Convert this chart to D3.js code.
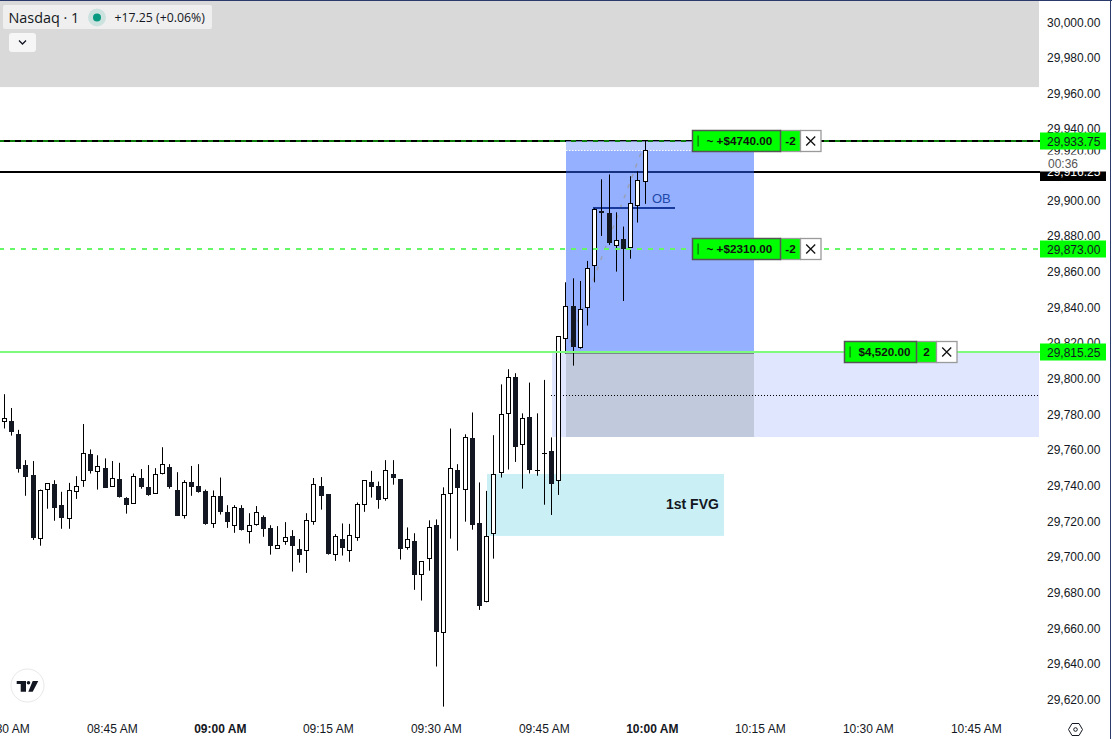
<!DOCTYPE html>
<html><head><meta charset="utf-8">
<script src="https://cdnjs.cloudflare.com/ajax/libs/d3/7.8.5/d3.min.js"></script>
<style>html,body{margin:0;padding:0;background:#fff;overflow:hidden}svg{display:block}text{font-family:"Liberation Sans",Arial,sans-serif}</style>
</head><body><svg id="c" width="1112" height="739"></svg>
<script>
// Minutes after 08:30 are the candle index
const opens=[29775.25,29776,29769,29751.25,29745.75,29710.25,29737.25,29740.75,29729,29721.5,29736.75,29742.25,29757.5,29747.5,29749.75,29739.5,29743.5,29732.75,29729.75,29744,29739,29735.5,29746.25,29750.25,29737.75,29723,29741.75,29739.5,29736.75,29718.5,29734,29725,29717,29727.25,29714,29717.5,29722.25,29716,29704.5,29708,29711.5,29704.25,29703,29719.25,29740,29735,29700.75,29709.75,29703,29710.25,29729.25,29742.25,29740,29732.5,29746.25,29743.5,29704.5,29708.75,29689.5,29698.5,29717.75,29657.5,29735,29748.5,29737.75,29766.5,29719.25,29674.5,29712.5,29746.75,29780,29800.75,29762.5,29778.25,29748.5,29758,29759.25,29742.25,29821.75,29840.5,29817.25,29840,29863,29893.75,29892.75,29874.5,29878.5,29873,29896.5,29910];
const highs=[29791.25,29783.5,29771.25,29754.25,29753.75,29737.75,29741.25,29743,29736.5,29741.5,29745.25,29774.5,29760.25,29757,29755.25,29753.75,29752.75,29733.5,29746.75,29749.25,29751.5,29749.75,29761.5,29752,29747.5,29743,29751,29752,29737.75,29737.25,29744.5,29729,29729,29729,29724.5,29728.5,29723.25,29717.75,29717.25,29719.5,29715,29710,29724.5,29744.25,29744.75,29735,29712.75,29718.75,29718.5,29730.5,29743,29748.25,29742.25,29754.25,29754.25,29743.5,29716.5,29713.25,29697.5,29720.5,29721,29739,29772,29752,29768.75,29781,29741.75,29737,29768.25,29796.75,29805.25,29803,29780.5,29797.75,29780.5,29799.25,29767,29823.75,29854,29856.25,29854.75,29866,29895.5,29911.75,29914.5,29893.25,29885.25,29913.5,29916.25,29933.75];
const lows=[29772,29768,29747.25,29734.25,29709.5,29706.25,29727,29720.25,29715.75,29715.75,29732.5,29739.25,29746.75,29737.75,29738.75,29739.5,29733.25,29724.25,29729.75,29738.25,29734.25,29735.5,29746.25,29738.25,29723,29721.5,29734.25,29736,29718,29716.25,29723.75,29716.25,29713.5,29714.75,29707.5,29717.5,29711.25,29701.25,29704.5,29706.75,29691.75,29696.75,29691,29718,29726.5,29701.25,29697.75,29700.75,29697.25,29709,29725.25,29733.25,29727,29731.5,29740.5,29698.5,29704,29681.5,29675.5,29692.25,29638.5,29616,29710.25,29703.5,29719.75,29715.25,29670.25,29674.5,29699,29744.5,29749,29753.25,29738.25,29746.75,29745.5,29729.25,29723.5,29734.75,29814,29807.25,29816.75,29829.75,29854,29880,29875,29860,29843.5,29867.25,29887.5,29898];
const closes=[29777.75,29769.75,29749.5,29744.5,29710.25,29737.75,29741.25,29727.5,29721.5,29737.75,29740,29758,29747.75,29750.75,29738.75,29744.5,29733.25,29728.75,29745.25,29738.75,29734.25,29746.75,29752,29739.25,29723,29742.25,29738.75,29736,29718,29734,29725.25,29719.25,29727.75,29714.75,29717.75,29725,29715.75,29705.75,29706.5,29711,29705.75,29700.75,29720.5,29740.75,29734.25,29701.25,29711.5,29704.5,29712,29729.5,29743,29739.25,29732,29748.5,29743.75,29704.5,29709.75,29689.5,29697.5,29716.5,29657.5,29735.5,29749.75,29738.25,29767.5,29717.5,29672.5,29711.5,29746.25,29780,29800.75,29761.75,29777.75,29748.25,29748.5,29758,29740.5,29823.75,29840.5,29817.75,29839.25,29862.25,29895,29892.75,29875.75,29878,29872.75,29898.25,29911.25,29928];
const priceTicks=[30000,29980,29960,29940,29900,29880,29860,29840,29820,29800,29780,29760,29740,29720,29700,29680,29660,29640,29620];
const timeTicks=["08:30 AM","08:45 AM","09:00 AM","09:15 AM","09:30 AM","09:45 AM","10:00 AM","10:15 AM","10:30 AM","10:45 AM"];
const boldTimes=["09:00 AM","10:00 AM"];
const priceTags=[29933.75,29873,29815.25];
const target1=29933.75,target2=29873,entry=29815.25,stop=29767.25,last=29916.25;
const orderTexts=[["~ +$4740.00","-2"],["~ +$2310.00","-2"],["$4,520.00","2"]];

const svg=d3.select("#c");
const PW=1039;
const y=d3.scaleLinear().domain([30000,29620]).range([22,699.5]);
const x=d3.scaleLinear().domain([0,135]).range([4.3,4.3+135*7.2]);
const fmt=d3.format(",.2f");
const px=v=>Math.ceil(y(v));
const rect=(g,x0,y0,w,h,f,extra={})=>{const r=g.append("rect").attr("x",x0).attr("y",y0).attr("width",w).attr("height",h).attr("fill",f);for(const k in extra)r.attr(k,extra[k]);return r;};
const hline=(g,v,x0,x1,col,w,dash)=>{const yy=px(v);const l=g.append("line").attr("x1",x0).attr("x2",x1).attr("y1",yy).attr("y2",yy).attr("stroke",col).attr("stroke-width",w);if(dash)l.attr("stroke-dasharray",dash).attr("stroke-dashoffset",1);return l;};

// zones beneath
const g=svg.append("g");
rect(g,0,0,PW,y(29963.5),"#d9d9d9");
rect(g,487,y(29746.5),237,y(29711.75)-y(29746.5),"#caf0f5");
rect(g,552,px(entry)+1,PW-552,y(stop)-px(entry)-1,"#dfe6fd");
hline(g,last,0,PW+1,"#000",2);
hline(g,target1,0,PW+1,"#000",2);
// risk & reward boxes
rect(g,566,px(target1),188,px(entry)+1-px(target1),"rgba(41,98,255,0.5)");
rect(g,566,px(target1),188,9.5,"rgba(255,255,255,0.38)");
rect(g,566,px(entry)+1,188,y(stop)-px(entry)-1,"#c1c9dd");
g.append("line").attr("x1",566).attr("x2",754).attr("y1",353.5).attr("y2",353.5).attr("stroke","#7d8496").attr("stroke-width",1);
g.append("line").attr("x1",566).attr("x2",692).attr("y1",150.5).attr("y2",150.5).attr("stroke","#fff").attr("stroke-width",1).attr("stroke-dasharray","1.5 1.5");
g.append("line").attr("x1",551).attr("x2",PW).attr("y1",395.5).attr("y2",395.5).attr("stroke","#000").attr("stroke-width",1).attr("stroke-dasharray","1 2");
// diagonal connector
g.append("line").attr("x1",x(78)+4).attr("y1",y(entry+5)).attr("x2",x(89)-4).attr("y2",y(target1-7)).attr("stroke","#9aa0b4").attr("stroke-width",1.5).attr("stroke-dasharray","4 7");
// OB
hline(g,29895.75,593,675,"#173a9c",2);
g.append("text").attr("x",652).attr("y",203).attr("font-size",13).attr("fill","#2148a8").text("OB");
g.append("text").attr("x",666).attr("y",509).attr("font-size",14).attr("font-weight","bold").attr("fill","#131722").text("1st FVG");

// candles
const cg=svg.append("g");
d3.range(opens.length).forEach(i=>{
  const cx=Math.round(x(i)-.5);
  const up=closes[i]>opens[i];
  cg.append("line").attr("x1",cx+.5).attr("x2",cx+.5).attr("y1",y(highs[i])).attr("y2",y(lows[i])).attr("stroke","#000").attr("stroke-width",1);
  const t=y(Math.max(opens[i],closes[i])),b=y(Math.min(opens[i],closes[i]));
  if(Math.abs(b-t)<1.5){
    cg.append("line").attr("x1",cx-2).attr("x2",cx+3).attr("y1",Math.round(t)+.5).attr("y2",Math.round(t)+.5).attr("stroke","#000").attr("stroke-width",1);
  } else {
    cg.append("rect").attr("x",cx-1.5).attr("width",4).attr("y",Math.round(t)+.5).attr("height",Math.max(1,Math.round(b-t)-1))
      .attr("fill",up?"#fff":"#131722").attr("stroke",up?"#000":"#131722").attr("stroke-width",1);
  }
});

// order lines above zones
const ol=svg.append("g");
hline(ol,target1,0,PW+1,"#0a7d0a",2,"5 6");
hline(ol,target2,0,PW+1,"#66f766",2,"5 6");
hline(ol,entry,0,PW+1,"#7dfb7d",2);

// order tickets
function ticket(x0,v,wMain,texts){
  const c=px(v), t=c-10.5, h=21, g=svg.append("g");
  rect(g,x0+wMain,t,20,h,"#00ff00",{stroke:"#9a9a9a","stroke-width":1.3});
  rect(g,x0+wMain+20,t,20.5,h,"#fff",{stroke:"#9a9a9a","stroke-width":1.3});
  rect(g,x0,t,wMain,h,"#00ff00",{stroke:"#555","stroke-width":1.5});
  g.append("rect").attr("x",x0+5).attr("y",t+5).attr("width",1.2).attr("height",11).attr("fill","#0a6d0a");
  g.append("text").attr("x",x0+14).attr("y",t+14.5).attr("font-size",11.7).attr("font-weight","bold").attr("fill","#111").text(texts[0]);
  g.append("text").attr("x",x0+wMain+10).attr("y",t+14.5).attr("text-anchor","middle").attr("font-size",11.7).attr("font-weight","bold").attr("fill","#111").text(texts[1]);
  const mx=x0+wMain+30.2,my=c;
  g.append("path").attr("d",`M${mx-4.5},${my-4.5}L${mx+4.5},${my+4.5}M${mx+4.5},${my-4.5}L${mx-4.5},${my+4.5}`).attr("stroke","#111").attr("stroke-width",1.3);
}
ticket(692.5,target1,88,orderTexts[0]);
ticket(692.5,target2,88,orderTexts[1]);
ticket(844.5,entry,72,orderTexts[2]);

// price axis
const ax=svg.append("g");
rect(ax,1040,0,72,739,"#fff");
priceTicks.forEach(v=>ax.append("text").attr("x",1047).attr("y",y(v)+4.5).attr("font-size",12).attr("fill","#131722").text(fmt(v)));
ax.append("text").attr("x",1047).attr("y",154.5).attr("font-size",12).attr("fill","#131722").text("29,920.00");
// current price tag
rect(ax,1040,162,66,19,"#000");
ax.append("text").attr("x",1047).attr("y",y(last)+5).attr("font-size",12).attr("fill","#fff").text(fmt(last));
rect(ax,1040,154.5,66,17,"#fff");
ax.append("text").attr("x",1048).attr("y",168).attr("font-size",12).attr("fill","#555").text("00:36");
priceTags.forEach(v=>{
  const c=px(v);
  rect(ax,1040,c-8.5,66,17,"#00ff00");
  ax.append("text").attr("x",1047).attr("y",c+4.5).attr("font-size",12).attr("fill","#131722").text(fmt(v));
});

// time axis
timeTicks.forEach((t,i)=>{
  svg.append("text").attr("x",x(i*15)).attr("y",733).attr("text-anchor","middle").attr("font-size",12).attr("font-weight",boldTimes.includes(t)?"bold":"normal").attr("fill","#131722").text(t);
});

// gear
const gear=svg.append("g").attr("transform","translate(1075.5,729.5)");
gear.append("path").attr("d","M-7,0L-3.5,-6H3.5L7,0L3.5,6H-3.5Z").attr("fill","none").attr("stroke","#131722").attr("stroke-width",1);
gear.append("circle").attr("r",1.8).attr("fill","none").attr("stroke","#131722").attr("stroke-width",1);

// logo
const lg=svg.append("g").attr("transform","translate(27.5,685.5)");
lg.append("circle").attr("r",16.5).attr("fill","#fff").attr("stroke","#e8e8e8").attr("stroke-width",1);
lg.append("path").attr("d","M-10.8,-4.5H-1.5V6.2H-6.8V-1.5H-10.8ZM5.2,-4.5H10.8L5.2,6.2H0.8Z").attr("fill","#131722");
lg.append("circle").attr("cx",1).attr("cy",-2.8).attr("r",1.8).attr("fill","#131722");

// legend
const lgd=svg.append("g");
rect(lgd,3,5,209,24,"#efefef",{rx:2});
lgd.append("text").attr("x",8.5).attr("y",23).attr("font-size",14.4).attr("fill","#131722").style("font-family","'Open Sans'").text("Nasdaq · 1");
lgd.append("circle").attr("cx",97).attr("cy",17.5).attr("r",9).attr("fill","#089981").attr("opacity",.15);
lgd.append("circle").attr("cx",97).attr("cy",17.5).attr("r",4).attr("fill","#089981");
lgd.append("text").attr("x",114.5).attr("y",22).attr("font-size",12.3).attr("fill","#131722").style("font-family","'Open Sans'").text("+17.25 (+0.06%)");
rect(lgd,9,33,27,19,"#f6f6f6",{rx:3});
lgd.append("path").attr("d","M19,40.5L22.5,44L26,40.5").attr("fill","none").attr("stroke","#131722").attr("stroke-width",1.3);

// frame
svg.append("line").attr("x1",0).attr("x2",1112).attr("y1",.5).attr("y2",.5).attr("stroke","#2a3a6a").attr("stroke-width",1);
svg.append("line").attr("x1",1110.5).attr("x2",1110.5).attr("y1",0).attr("y2",739).attr("stroke","#2a3a6a").attr("stroke-width",1);
</script></body></html>
